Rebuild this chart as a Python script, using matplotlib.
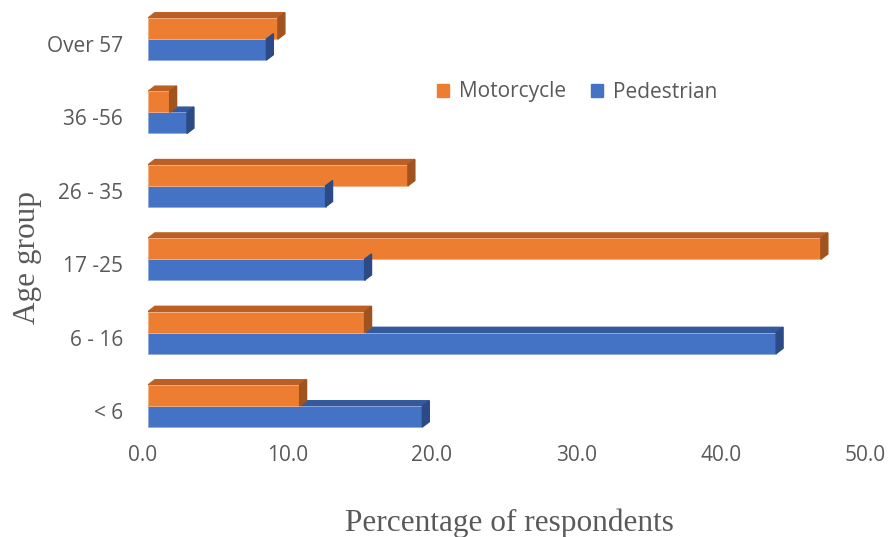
import matplotlib.pyplot as plt
from matplotlib.patches import Polygon, Patch
from matplotlib.transforms import ScaledTranslation

# Age groups, bottom to top
age_groups = ['< 6', '6 - 16', '17 -25', '26 - 35', '36 -56', 'Over 57']
motorcycle = [10.5, 15.0, 46.6, 18.0, 1.5, 9.0]
pedestrian = [19.0, 43.5, 15.0, 12.3, 2.7, 8.2]
x_ticks = [0, 10, 20, 30, 40, 50]

ORANGE = '#ED7D31'
ORANGE_TOP = '#BC5F24'
ORANGE_SIDE = '#A0531F'
BLUE = '#4472C4'
BLUE_TOP = '#34599C'
BLUE_SIDE = '#2C4A86'
GREY = '#595959'

BAR_H = 0.286
DEPTH_X = 0.48   # data units along x for the fake depth
DEPTH_Y = 0.072  # data units along y


def bar3d(ax, y, w, h, front, top, side):
    """Front face plus top and side faces to fake a 3D bar."""
    ax.barh(y, w, height=h, color=front, align='edge', zorder=3,
            edgecolor='#F4B183' if front == ORANGE else '#8FAADC', linewidth=0.6)
    top_face = Polygon([(0, y + h), (w, y + h), (w + DEPTH_X, y + h + DEPTH_Y),
                        (DEPTH_X, y + h + DEPTH_Y)], closed=True, color=top, zorder=2)
    side_face = Polygon([(w, y), (w + DEPTH_X, y + DEPTH_Y),
                         (w + DEPTH_X, y + h + DEPTH_Y), (w, y + h)],
                        closed=True, color=side, zorder=4)
    ax.add_patch(top_face)
    ax.add_patch(side_face)


fig = plt.figure(figsize=(8.94, 5.37), dpi=100)
ax = fig.add_axes([148 / 894, 1 - 442.7 / 537, (870 - 148) / 894, 440.4 / 537])

for i in range(len(age_groups)):
    # lower (blue) bar first so the orange one sits in front of its top face
    bar3d(ax, i - BAR_H, pedestrian[i], BAR_H, BLUE, BLUE_TOP, BLUE_SIDE)
    bar3d(ax, i, motorcycle[i], BAR_H, ORANGE, ORANGE_TOP, ORANGE_SIDE)

ax.set_xlim(0, 50)
ax.set_ylim(-0.5, 5.5)
ax.set_xticks(x_ticks)
ax.set_xticklabels(['%.1f' % t for t in x_ticks])
ax.set_yticks(range(len(age_groups)))
ax.set_yticklabels(age_groups)
ax.tick_params(length=0, labelsize=15, labelcolor=GREY)
ax.tick_params(axis='x', pad=2)
ax.tick_params(axis='y', pad=18)
for lab in ax.get_xticklabels() + ax.get_yticklabels():
    lab.set_fontfamily('Open Sans')
for lab in ax.get_xticklabels():
    lab.set_transform(lab.get_transform() + ScaledTranslation(-0.05, 0, fig.dpi_scale_trans))
for lab in ax.get_yticklabels():
    lab.set_transform(lab.get_transform() + ScaledTranslation(0, -0.05, fig.dpi_scale_trans))

for s in ax.spines.values():
    s.set_visible(False)

ax.set_xlabel('Percentage of respondents', fontsize=22.5, color=GREY,
              family='Liberation Serif', labelpad=30)
fig.text(28 / 894, 1 - 258 / 537, 'Age group', rotation=90, fontsize=22.5,
         color=GREY, family='Liberation Serif', ha='center', va='center')

handles = [Patch(color=ORANGE, label='Motorcycle'), Patch(color=BLUE, label='Pedestrian')]
fig.legend(handles=handles, loc='center left', bbox_to_anchor=(0.477, 1 - 92 / 537),
           ncol=2, frameon=False, handlelength=0.6, handleheight=0.6,
           handletextpad=0.45, columnspacing=1.2, borderpad=0,
           prop={'family': 'Open Sans', 'size': 15}, labelcolor=GREY)

fig.savefig('out.png', dpi=100)
